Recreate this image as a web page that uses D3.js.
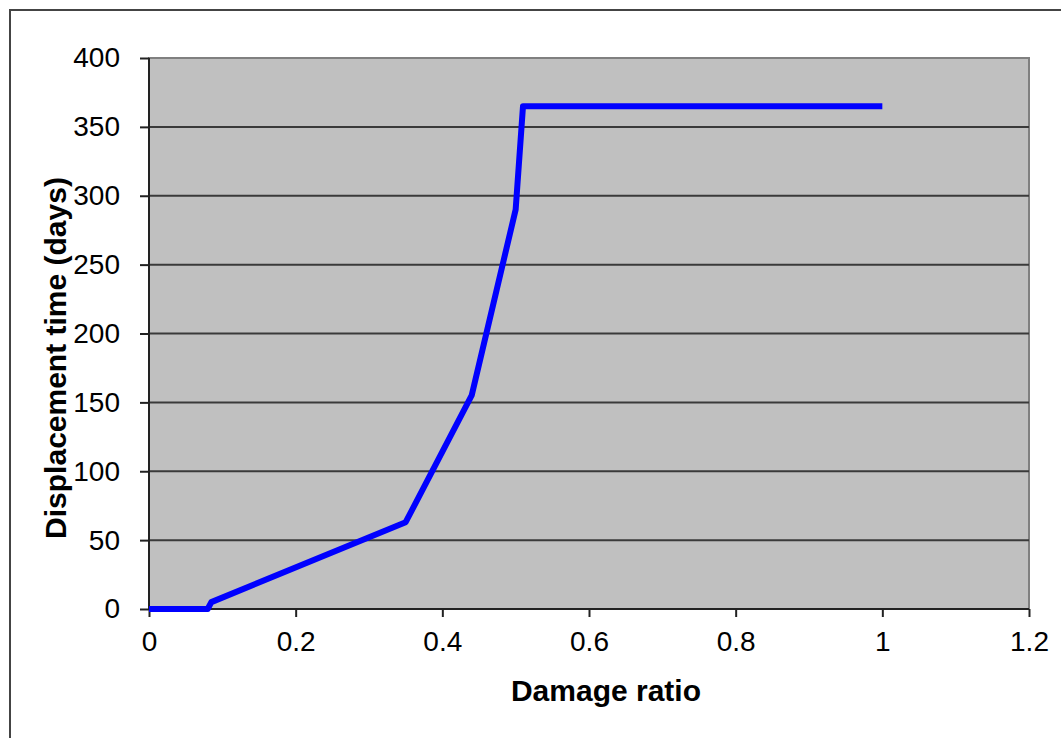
<!doctype html>
<html lang="en">
  <head>
    <meta charset="utf-8">
    <title>Displacement time vs damage ratio</title>
    <script src="https://d3js.org/d3.v7.min.js"></script>
    <style>
      body { margin: 0; background: #fff; }
      text { font-family: "Liberation Sans", Arial, sans-serif; fill: #000; }
    </style>
  </head>
  <body>
    <div id="container"></div>
  <script>
    // data
    const damageRatio = [0, 0.08, 0.085, 0.35, 0.44, 0.5, 0.51, 1]
    const displacementDays = [0, 0, 5, 63, 155, 290, 365, 365]
    const xTicks = [0, 0.2, 0.4, 0.6, 0.8, 1, 1.2]
    const yTicks = [0, 50, 100, 150, 200, 250, 300, 350, 400]

    const width = 1061
    const height = 738
    const plot = {left: 149, right: 1029, top: 58, bottom: 609}

    const svg = d3.select("#container")
      .append("svg")
        .attr("width", width)
        .attr("height", height)

    // outer frame (only top and left edges show)
    svg.append("path")
      .attr("d", `M10,${height + 5}V10H${width + 5}`)
      .attr("fill", "none")
      .attr("stroke", "#444")
      .attr("stroke-width", 2)

    const x = d3.scaleLinear().domain([0, 1.2]).range([plot.left, plot.right])
    const y = d3.scaleLinear().domain([0, 400]).range([plot.bottom, plot.top])

    svg.append("rect")
      .attr("x", plot.left)
      .attr("y", plot.top)
      .attr("width", plot.right - plot.left)
      .attr("height", plot.bottom - plot.top)
      .attr("fill", "#c0c0c0")
      .attr("stroke", "#808080")
      .attr("stroke-width", 2)

    // gridlines
    svg.append("g")
      .selectAll("line")
      .data(yTicks.slice(1, -1))
      .join("line")
        .attr("x1", plot.left)
        .attr("x2", plot.right)
        .attr("y1", d => y(d))
        .attr("y2", d => y(d))
        .attr("stroke", "#3a3a3a")
        .attr("stroke-width", 2)

    const yAxis = svg.append("g")
      .attr("transform", `translate(${plot.left},0)`)
      .call(d3.axisLeft(y).tickValues(yTicks).tickSize(9).tickPadding(20).tickFormat(d3.format("d")))
    const xAxis = svg.append("g")
      .attr("transform", `translate(0,${plot.bottom})`)
      .call(d3.axisBottom(x).tickValues(xTicks).tickSize(8).tickPadding(14).tickFormat(d => d3.format("")(d)))

    for (const ax of [yAxis, xAxis]) {
      ax.select(".domain").attr("stroke", "#222").attr("stroke-width", 2)
      ax.selectAll(".tick line").attr("stroke", "#222").attr("stroke-width", 2)
      ax.selectAll("text").attr("font-size", 28).attr("fill", "#000")
        .style("font-family", "'Liberation Sans', Arial, sans-serif")
    }
    xAxis.select(".domain").attr("d", `M${plot.left},0H${plot.right}`)
    yAxis.select(".domain").attr("d", `M0,${plot.bottom}V${plot.top}`)

    const line = d3.line()
      .x((d, i) => x(damageRatio[i]))
      .y(d => y(d))

    svg.append("path")
      .datum(displacementDays)
      .attr("d", line)
      .attr("fill", "none")
      .attr("stroke", "#0000ff")
      .attr("stroke-width", 6)
      .attr("stroke-linejoin", "round")

    svg.append("text")
      .attr("x", 606)
      .attr("y", 701)
      .attr("text-anchor", "middle")
      .attr("font-size", 30)
      .attr("font-weight", "bold")
      .text("Damage ratio")

    svg.append("text")
      .attr("transform", "translate(66,358) rotate(-90)")
      .attr("text-anchor", "middle")
      .attr("font-size", 30)
      .attr("font-weight", "bold")
      .text("Displacement time (days)")
  </script>
  </body>
</html>
